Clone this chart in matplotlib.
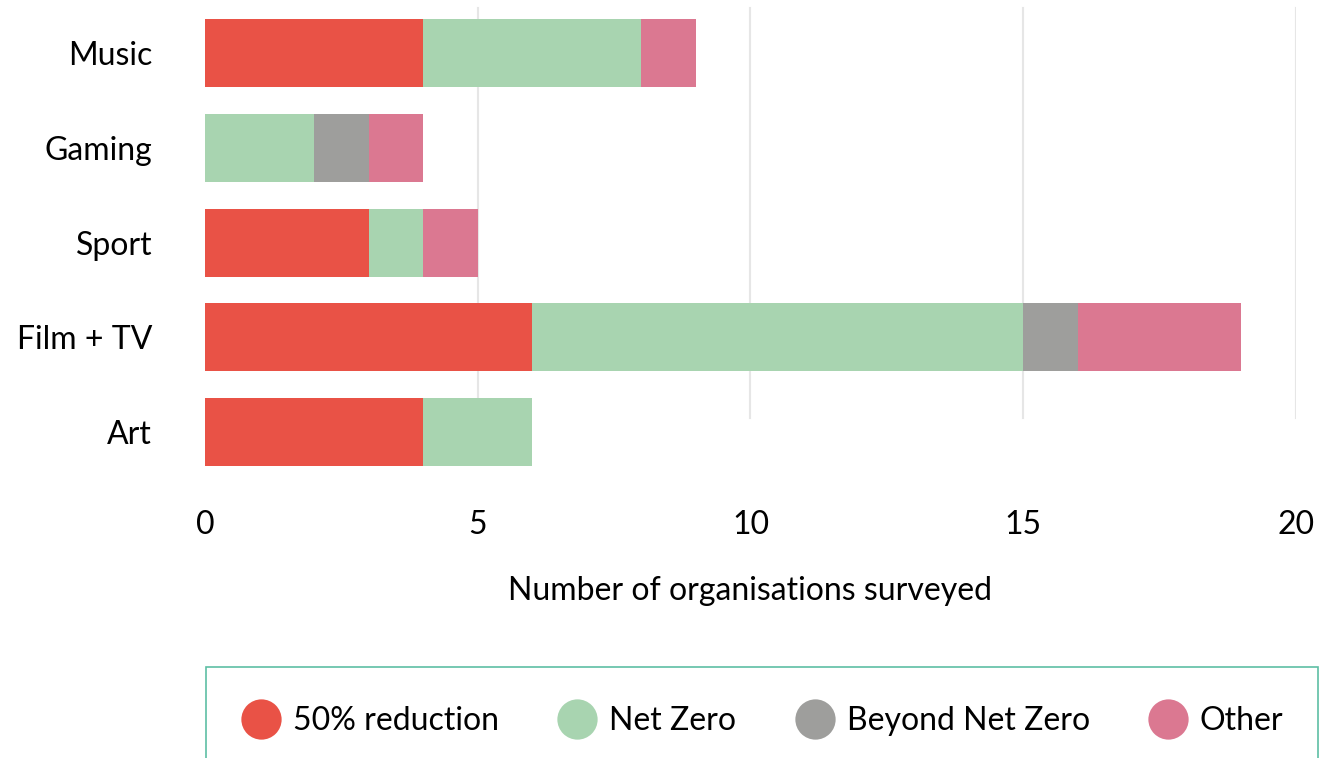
import matplotlib.pyplot as plt
from matplotlib.lines import Line2D
from matplotlib.patches import Rectangle

plt.rcParams['font.family'] = ['Lato', 'DejaVu Sans']

# Data
categories = ['Music', 'Gaming', 'Sport', 'Film + TV', 'Art']
reduction_50 = [4, 0, 3, 6, 4]
net_zero = [4, 2, 1, 9, 2]
beyond_net_zero = [0, 1, 0, 1, 0]
other = [1, 1, 1, 3, 0]

series = [
    ('50% reduction', reduction_50, '#E95246'),
    ('Net Zero', net_zero, '#A8D4B0'),
    ('Beyond Net Zero', beyond_net_zero, '#9E9E9C'),
    ('Other', other, '#DB7891'),
]

fig = plt.figure(figsize=(13.37, 7.58), dpi=100)
ax = fig.add_axes([0.1533, 0.368, 0.816, 0.624])

ypos = list(range(len(categories)))
left = [0] * len(categories)
for label, vals, color in series:
    ax.barh(ypos, vals, left=left, height=0.72, color=color, label=label, zorder=2)
    left = [l + v for l, v in zip(left, vals)]

ax.set_xlim(0, 20)
ax.set_ylim(4.5, -0.5)
ax.set_xticks([0, 5, 10, 15, 20])
ax.set_yticks(ypos)
ax.set_yticklabels(categories)
ax.tick_params(axis='both', length=0, labelsize=23, colors='black')
ax.tick_params(axis='y', pad=38)
ax.tick_params(axis='x', pad=22)

# light vertical gridlines (they stop above the last bar)
for x in [5, 10, 15, 20]:
    ax.axvline(x, ymin=0.13, ymax=0.995, color='#E6E6E6', lw=1.5, zorder=1)

for s in ax.spines.values():
    s.set_visible(False)

ax.set_xlabel('Number of organisations surveyed', fontsize=23, labelpad=26)

# legend box (runs off the bottom of the figure)
fig.patches.append(Rectangle((206 / 1337, -0.05), (1318 - 206) / 1337, 0.05 + (758 - 667) / 758,
                             transform=fig.transFigure, facecolor='white',
                             edgecolor='#5DBFA4', lw=1.2))
handles = [Line2D([], [], marker='o', ls='none', markersize=29, color=c,
                  markeredgewidth=0) for _, _, c in series]
fig.legend(handles, [s[0] for s in series], loc='center', ncol=4,
           bbox_to_anchor=(762 / 1337, 1 - 721 / 758), frameon=False,
           fontsize=23, handletextpad=0.35, columnspacing=1.8, handlelength=1.3)

fig.savefig('out.png', dpi=100)
